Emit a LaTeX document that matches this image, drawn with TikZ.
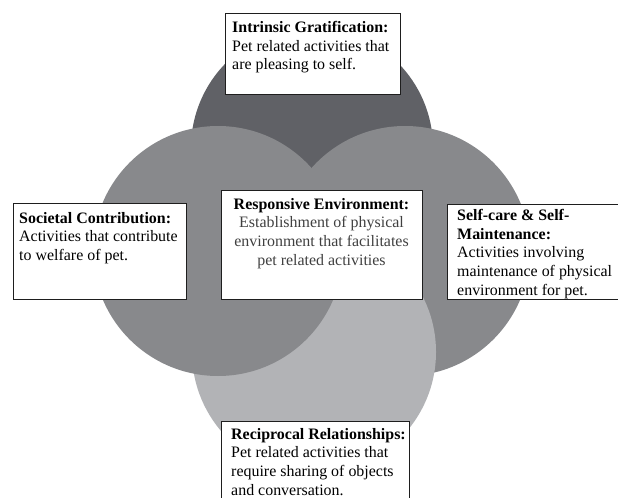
\documentclass[tikz,border=0pt]{standalone}
\usepackage{fontspec}
\setmainfont{Liberation Serif}
\definecolor{cdark}{HTML}{606166}
\definecolor{cmid}{HTML}{88898C}
\definecolor{clight}{HTML}{B2B3B6}
\definecolor{cline}{HTML}{1E1E1E}
\tikzset{
  boxshape/.style={draw=cline, line width=1bp, fill=white, rectangle, inner sep=0pt, anchor=north west},
  boxtext/.style={inner sep=0pt, font=\fontsize{16}{18.8}\selectfont, text=black},
}
\begin{document}
\begin{tikzpicture}[x=1bp,y=-1bp]
\useasboundingbox (0,0) rectangle (618,498);
\clip (0,0) rectangle (618,498);
\fill[white] (0,0) rectangle (618,498);
% circles
\fill[cdark]  (312,148) circle[radius=121];
\fill[cmid]   (405,251) circle[radius=125];
\fill[clight] (314,352) circle[radius=122];
\fill[cmid]   (218,251) circle[radius=125];
% boxes
\node[boxshape, minimum width=175bp, minimum height=81bp] (topbox) at (225,13) {};
\node[boxshape, minimum width=173bp, minimum height=96bp] (leftbox) at (13,203) {};
\node[boxshape, minimum width=201bp, minimum height=109bp] (centerbox) at (221,190) {};
\node[boxshape, minimum width=180bp, minimum height=95bp] (rightbox) at (447,204) {};
\node[boxshape, minimum width=188bp, minimum height=90bp] (bottombox) at (221,421) {};
% texts
\node[boxtext, anchor=north west, align=left] (toptext) at (232,21)
  {\textbf{Intrinsic Gratification:}\\Pet related activities that\\are pleasing to self.};
\node[boxtext, anchor=north west, align=left] (lefttext) at (19,212)
  {\textbf{Societal Contribution:}\\Activities that contribute\\to welfare of pet.};
\node[boxtext, anchor=north, align=center] (centertext) at (321.5,198)
  {\textbf{Responsive Environment:}\\\textcolor{black!75}{Establishment of physical}\\\textcolor{black!75}{environment that facilitates}\\\textcolor{black!75}{pet related activities}};
\node[boxtext, anchor=north west, align=left] (righttext) at (457,209)
  {\textbf{Self-care \& Self-}\\\textbf{Maintenance:}\\Activities involving\\maintenance of physical\\environment for pet.};
\node[boxtext, anchor=north west, align=left] (bottomtext) at (231,428)
  {\textbf{Reciprocal Relationships:}\\Pet related activities that\\require sharing of objects\\and conversation.};
\end{tikzpicture}
\end{document}
